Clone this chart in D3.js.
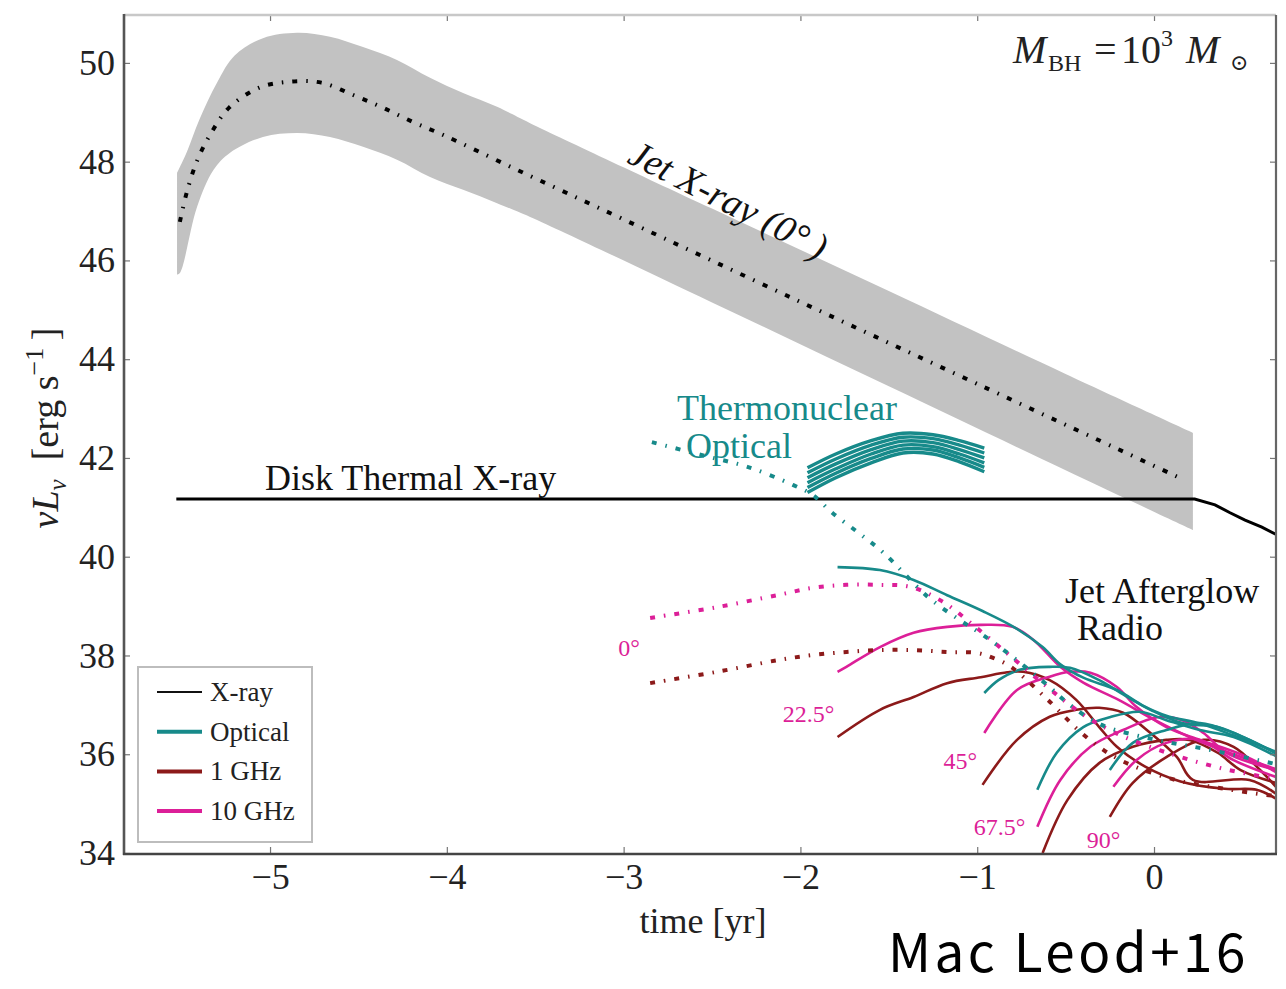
<!DOCTYPE html>
<html>
<head>
<meta charset="utf-8">
<script src="https://cdn.jsdelivr.net/npm/d3@7"></script>
<style>
  body { margin: 0; background: #fff; }
  svg { display: block; }
</style>
</head>
<body>
<svg id="chart" width="1286" height="989"></svg>
<script>
// ---- axis ticks ----
const xTicks = [-5, -4, -3, -2, -1, 0];
const yTicks = [34, 36, 38, 40, 42, 44, 46, 48, 50];

// ---- jet X-ray (on-axis) : central track and spread band [time yr, log nuL_nu] ----
const jetCenter = [[-5.51,46.78],[-5.47,47.39],[-5.41,48.04],[-5.33,48.6],[-5.23,49.1],[-5.06,49.5],[-4.89,49.62],[-4.71,49.6],[-4.53,49.35],[-4.36,49.09],[-4.19,48.8],[-4.02,48.54],[-3.6,47.83],[-3.0,46.83],[-2.0,45.16],[-1.0,43.5],[0.0,41.84],[0.16,41.57]];
const jetUpper = [[-5.526,47.77],[-5.47,48.2],[-5.4,48.85],[-5.3,49.6],[-5.2,50.15],[-5.04,50.5],[-4.847,50.61],[-4.661,50.53],[-4.474,50.32],[-4.282,50.06],[-4.095,49.7],[-3.908,49.39],[-3.716,49.11],[-3.529,48.78],[-2.5,47.05],[-1.5,45.38],[-0.5,43.7],[0.22,42.51]];
const jetLower = [[-5.526,45.71],[-5.509,45.75],[-5.413,47.08],[-5.32,47.83],[-5.226,48.18],[-5.04,48.5],[-4.847,48.58],[-4.661,48.5],[-4.474,48.3],[-4.282,48.04],[-4.095,47.69],[-3.908,47.43],[-3.716,47.16],[-3.529,46.88],[-2.5,45.15],[-1.5,43.45],[-0.5,41.75],[0.22,40.54]];

// ---- disk thermal X-ray ----
const diskXray = [[-5.53,41.17],[0.23,41.17],[0.345,41.05],[0.43,40.89],[0.515,40.74],[0.61,40.6],[0.696,40.44]];

// ---- thermonuclear optical transient (bundle of tracks) ----
const thermo1 = [[-1.96,41.80],[-1.8,42.08],[-1.6,42.35],[-1.42,42.5],[-1.25,42.47],[-1.1,42.35],[-0.96,42.2]];
const thermo2 = [[-1.96,41.70],[-1.8,41.98],[-1.6,42.26],[-1.42,42.42],[-1.25,42.39],[-1.1,42.26],[-0.96,42.1]];
const thermo3 = [[-1.96,41.60],[-1.8,41.88],[-1.6,42.17],[-1.42,42.34],[-1.25,42.31],[-1.1,42.17],[-0.96,42.0]];
const thermo4 = [[-1.96,41.50],[-1.8,41.78],[-1.6,42.08],[-1.42,42.26],[-1.25,42.23],[-1.1,42.08],[-0.96,41.9]];
const thermo5 = [[-1.96,41.40],[-1.8,41.69],[-1.6,41.99],[-1.42,42.18],[-1.25,42.16],[-1.1,42.0],[-0.96,41.81]];
const thermo6 = [[-1.96,41.30],[-1.8,41.60],[-1.6,41.90],[-1.42,42.10],[-1.25,42.08],[-1.1,41.92],[-0.96,41.72]];

// ---- jet afterglow, viewing angle 0 deg (dotted) ----
const optical0 = [[-2.84,42.32],[-2.55,42.05],[-2.3,41.82],[-2.04,41.45],[-1.93,41.25],[-1.82,40.89],[-1.67,40.48],[-1.53,40.08],[-1.28,39.19],[-1.1,38.72],[-0.97,38.42],[-0.81,38.0],[-0.59,37.36],[-0.49,37.04],[-0.3,36.6],[0.0,36.3],[0.3,36.1],[0.69,35.8]];
const ghz10_0 = [[-2.85,38.76],[-2.47,38.98],[-2.12,39.23],[-1.93,39.37],[-1.74,39.43],[-1.55,39.43],[-1.38,39.39],[-1.2,39.1],[-1.0,38.55],[-0.8,37.95],[-0.6,37.35],[-0.4,36.8],[-0.2,36.4],[0.1,36.0],[0.4,35.7],[0.69,35.5]];
const ghz1_0 = [[-2.85,37.44],[-2.47,37.67],[-2.12,37.91],[-1.93,38.01],[-1.74,38.07],[-1.55,38.11],[-1.36,38.11],[-1.17,38.07],[-1.0,38.05],[-0.91,37.95],[-0.81,37.77],[-0.6,37.1],[-0.4,36.4],[-0.2,35.9],[0.1,35.5],[0.4,35.3],[0.69,35.15]];

// ---- jet afterglow, off-axis angles (solid) ----
const optical22 = [[-1.79,39.79],[-1.55,39.73],[-1.36,39.53],[-1.17,39.22],[-0.97,38.9],[-0.78,38.55],[-0.63,38.17],[-0.53,37.82],[-0.4,37.55],[-0.21,37.3],[-0.06,36.98],[0.07,36.78],[0.26,36.62],[0.45,36.38],[0.69,36.05]];
const ghz10_22 = [[-1.79,37.67],[-1.74,37.77],[-1.55,38.17],[-1.36,38.46],[-1.17,38.58],[-0.98,38.62],[-0.8,38.58],[-0.68,38.31],[-0.53,37.77],[-0.4,37.45],[-0.2,37.1],[0.0,36.7],[0.2,36.35],[0.45,36.0],[0.69,35.7]];
const ghz1_22 = [[-1.79,36.35],[-1.55,36.9],[-1.36,37.16],[-1.17,37.44],[-0.98,37.56],[-0.83,37.66],[-0.74,37.67],[-0.59,37.5],[-0.44,37.1],[-0.31,36.55],[-0.21,36.15],[-0.05,35.75],[0.15,35.45],[0.4,35.3],[0.58,35.28],[0.69,35.1]];
const optical45 = [[-0.96,37.24],[-0.88,37.5],[-0.76,37.71],[-0.59,37.77],[-0.475,37.75],[-0.31,37.5],[-0.15,37.16],[-0.02,36.9],[0.16,36.63],[0.36,36.55],[0.54,36.29],[0.69,36.02]];
const ghz10_45 = [[-0.96,36.43],[-0.775,37.3],[-0.59,37.57],[-0.475,37.67],[-0.36,37.65],[-0.21,37.36],[-0.1,36.96],[0.07,36.55],[0.26,36.29],[0.49,36.0],[0.69,35.64]];
const ghz1_45 = [[-0.97,35.38],[-0.775,36.29],[-0.59,36.76],[-0.44,36.9],[-0.31,36.94],[-0.175,36.84],[-0.02,36.43],[0.13,35.94],[0.22,35.48],[0.54,35.48],[0.69,35.2]];
const optical67 = [[-0.66,35.28],[-0.55,36.03],[-0.4,36.55],[-0.25,36.75],[-0.08,36.86],[0.07,36.69],[0.26,36.49],[0.45,36.35],[0.69,35.96]];
const ghz10_67 = [[-0.66,34.53],[-0.53,35.48],[-0.36,36.15],[-0.175,36.49],[0.02,36.75],[0.16,36.69],[0.28,36.43],[0.41,36.03],[0.69,35.68]];
const ghz1_67 = [[-0.63,34.0],[-0.49,35.07],[-0.31,35.82],[-0.12,36.15],[0.07,36.29],[0.2,36.29],[0.36,36.03],[0.49,35.68],[0.69,35.42]];
const optical90 = [[-0.25,35.68],[-0.12,36.23],[0.07,36.49],[0.26,36.63],[0.45,36.43],[0.69,36.02]];
const ghz10_90 = [[-0.23,35.34],[-0.1,35.88],[0.07,36.23],[0.26,36.29],[0.45,35.88],[0.69,35.54]];
const ghz1_90 = [[-0.25,34.73],[-0.12,35.42],[0.07,35.94],[0.28,36.29],[0.45,36.15],[0.6,35.68],[0.69,35.34]];

// ---- viewing-angle labels [text, time, log L] ----
const angleLabels = [["0°", -3.03, 37.98], ["22.5°", -2.1, 36.66], ["45°", -1.19, 35.7], ["67.5°", -1.02, 34.37], ["90°", -0.38, 34.1]];

// ---- legend ----
const legendNames = ["X-ray", "Optical", "1 GHz", "10 GHz"];

const COL = { xray: "#111", optical: "#178a8a", ghz1: "#8c1a1a", ghz10: "#dc1f98" };

const svg = d3.select("#chart");
const serif = "'Liberation Serif', 'DejaVu Serif', serif";

const x = d3.scaleLinear().domain([-5.826, 0.69]).range([124, 1276]);
const y = d3.scaleLinear().domain([34, 50.97]).range([853, 15]);

svg.append("rect").attr("width", 1286).attr("height", 989).attr("fill", "#fff");

svg.append("defs").append("clipPath").attr("id", "plot")
  .append("rect").attr("x", 124).attr("y", 15).attr("width", 1152).attr("height", 838);

const plot = svg.append("g").attr("clip-path", "url(#plot)");

const smooth = d3.line().x(d => x(d[0])).y(d => y(d[1])).curve(d3.curveCatmullRom.alpha(0.5));
const straight = d3.line().x(d => x(d[0])).y(d => y(d[1]));

// spread band of the jet X-ray light curve
const bandPath = smooth(jetUpper) + "L" + smooth(jetLower.slice().reverse()).slice(1) + "Z";
plot.append("path").attr("d", bandPath).attr("fill", "#c2c2c2");

// central jet X-ray track (dash-dot)
plot.append("path").attr("d", smooth(jetCenter))
  .attr("fill", "none").attr("stroke", "#000").attr("stroke-width", 4)
  .attr("stroke-dasharray", "5,9,1.5,9");

// disk thermal X-ray
plot.append("path").attr("d", straight(diskXray))
  .attr("fill", "none").attr("stroke", "#000").attr("stroke-width", 3);

// thermonuclear optical bundle
[thermo1, thermo2, thermo3, thermo4, thermo5, thermo6].forEach(tr => {
  plot.append("path").attr("d", smooth(tr)).attr("fill", "none")
    .attr("stroke", COL.optical).attr("stroke-width", 3.4);
});

// afterglow, solid off-axis curves
const solid = [
  [ghz1_22, COL.ghz1], [ghz1_45, COL.ghz1], [ghz1_67, COL.ghz1], [ghz1_90, COL.ghz1],
  [ghz10_22, COL.ghz10], [ghz10_45, COL.ghz10], [ghz10_67, COL.ghz10], [ghz10_90, COL.ghz10],
  [optical22, COL.optical], [optical45, COL.optical], [optical67, COL.optical], [optical90, COL.optical]
];
solid.forEach(([d, c]) => {
  plot.append("path").attr("d", smooth(d)).attr("fill", "none")
    .attr("stroke", c).attr("stroke-width", 2.6).attr("stroke-linejoin", "round");
});

// afterglow, on-axis dotted curves
[[ghz1_0, COL.ghz1], [ghz10_0, COL.ghz10], [optical0, COL.optical]].forEach(([d, c]) => {
  plot.append("path").attr("d", smooth(d)).attr("fill", "none")
    .attr("stroke", c).attr("stroke-width", 4)
    .attr("stroke-dasharray", "5,9,1.5,9");
});

// ---- axes ----
const fmt = d => d < 0 ? "\u2212" + Math.abs(d) : String(d);
const gx = svg.append("g").attr("transform", "translate(0,853)")
  .call(d3.axisBottom(x).tickValues(xTicks).tickSizeInner(-6).tickSizeOuter(0).tickPadding(10).tickFormat(fmt));
const gy = svg.append("g").attr("transform", "translate(124,0)")
  .call(d3.axisLeft(y).tickValues(yTicks).tickSizeInner(-6).tickSizeOuter(0).tickPadding(9).tickFormat(d3.format("d")));
const gt = svg.append("g").attr("transform", "translate(0,15)")
  .call(d3.axisTop(x).tickValues(xTicks).tickSizeInner(-6).tickSizeOuter(0).tickFormat(""));
const gr = svg.append("g").attr("transform", "translate(1276,0)")
  .call(d3.axisRight(y).tickValues(yTicks).tickSizeInner(-6).tickSizeOuter(0).tickFormat(""));
[gx, gy, gt, gr].forEach(g => {
  g.select(".domain").remove();
  g.selectAll(".tick line").attr("stroke", "#777").attr("stroke-width", 1.2);
  g.selectAll("text").attr("font-family", serif).attr("font-size", 36).attr("fill", "#222");
});

// frame
svg.append("line").attr("x1", 124).attr("x2", 1276).attr("y1", 15).attr("y2", 15).attr("stroke", "#c8c8c8").attr("stroke-width", 2.5);
svg.append("line").attr("x1", 1276).attr("x2", 1276).attr("y1", 15).attr("y2", 853).attr("stroke", "#666").attr("stroke-width", 2.2);
svg.append("line").attr("x1", 124).attr("x2", 124).attr("y1", 14).attr("y2", 855).attr("stroke", "#555").attr("stroke-width", 2.6);
svg.append("line").attr("x1", 123).attr("x2", 1277).attr("y1", 854).attr("y2", 854).attr("stroke", "#444").attr("stroke-width", 2.6);

// axis titles
svg.append("text").attr("x", 703).attr("y", 933).attr("text-anchor", "middle")
  .attr("font-family", serif).attr("font-size", 36).attr("fill", "#222").text("time [yr]");

const yl = svg.append("text").attr("transform", "translate(58,428) rotate(-90)")
  .attr("text-anchor", "middle").attr("font-family", serif).attr("font-size", 38).attr("fill", "#222");
yl.append("tspan").attr("font-style", "italic").text("\u03BDL");
yl.append("tspan").attr("font-style", "italic").attr("font-size", 25).attr("dy", 8).text("\u03BD");
yl.append("tspan").attr("dy", -8).text("\u2002[erg s");
yl.append("tspan").attr("font-size", 26).attr("dy", -15).text("\u22121");
yl.append("tspan").attr("dy", 15).text("\u2009]");

// annotations
const mbh = svg.append("text").attr("y", 63).attr("font-family", serif).attr("font-size", 40).attr("fill", "#222");
mbh.append("tspan").attr("x", 1013).attr("font-style", "italic").text("M");
mbh.append("tspan").attr("x", 1048).attr("font-size", 24).attr("dy", 8).text("BH");
mbh.append("tspan").attr("x", 1094).attr("dy", -8).text("=");
mbh.append("tspan").attr("x", 1121).text("10");
mbh.append("tspan").attr("x", 1161).attr("font-size", 24).attr("dy", -17).text("3");
mbh.append("tspan").attr("x", 1186).attr("dy", 17).attr("font-style", "italic").text("M");
mbh.append("tspan").attr("x", 1230).attr("font-size", 22).attr("dy", 7).text("\u2299");

svg.append("text").attr("transform", "translate(626,162) rotate(27)")
  .attr("font-family", serif).attr("font-size", 38).attr("font-style", "italic").attr("fill", "#111")
  .text("Jet X-ray (0\u00B0\u2009)");

svg.append("text").attr("x", 265).attr("y", 490).attr("font-family", serif).attr("font-size", 36).attr("fill", "#111").text("Disk Thermal X-ray");
svg.append("text").attr("x", 677).attr("y", 420).attr("font-family", serif).attr("font-size", 36).attr("fill", COL.optical).text("Thermonuclear");
svg.append("text").attr("x", 686).attr("y", 458).attr("font-family", serif).attr("font-size", 36).attr("fill", COL.optical).text("Optical");
svg.append("text").attr("x", 1065).attr("y", 603).attr("font-family", serif).attr("font-size", 36).attr("fill", "#111").text("Jet Afterglow");
svg.append("text").attr("x", 1077).attr("y", 640).attr("font-family", serif).attr("font-size", 36).attr("fill", "#111").text("Radio");

svg.append("g").selectAll("text").data(angleLabels).join("text")
  .attr("x", d => x(d[1])).attr("y", d => y(d[2]))
  .attr("font-family", serif).attr("font-size", 24).attr("fill", COL.ghz10)
  .text(d => d[0]);

// legend
const lg = svg.append("g");
lg.append("rect").attr("x", 138).attr("y", 667).attr("width", 174).attr("height", 175)
  .attr("fill", "#fff").attr("stroke", "#bdbdbd").attr("stroke-width", 2);
const legCols = [COL.xray, COL.optical, COL.ghz1, COL.ghz10];
const legW = [2.2, 4, 4, 4];
legendNames.forEach((n, i) => {
  const yy = 692 + i * 39.7;
  lg.append("line").attr("x1", 157).attr("x2", 202).attr("y1", yy).attr("y2", yy)
    .attr("stroke", legCols[i]).attr("stroke-width", legW[i]);
  lg.append("text").attr("x", 210).attr("y", yy + 9).attr("font-family", serif).attr("font-size", 27).attr("fill", "#222").text(n);
});

// credit
svg.append("text").attr("x", 888).attr("y", 972)
  .attr("font-family", "'Noto Sans CJK JP', 'Noto Sans', sans-serif").attr("font-size", 53)
  .attr("letter-spacing", 3.5).attr("fill", "#000")
  .text("Mac Leod+16");
</script>
</body>
</html>
